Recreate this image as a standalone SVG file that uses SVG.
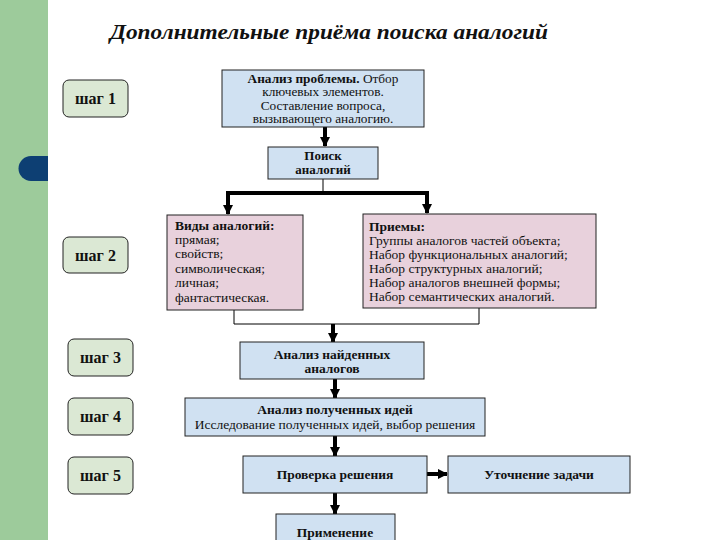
<svg xmlns="http://www.w3.org/2000/svg" width="720" height="540" viewBox="0 0 720 540">
<style>
text{font-family:"Liberation Serif","Times New Roman",serif;fill:#111;}
.t{font-size:13.5px;}
.t1{font-size:13.3px;}
.t2{font-size:13px;}
.b{font-weight:bold;}
.c{text-anchor:middle;}
.blue{fill:#d0e1f2;stroke:#222;stroke-width:1;}
.pink{fill:#e8d1dc;stroke:#222;stroke-width:1;}
.step{fill:#dbe8d4;stroke:#222;stroke-width:1;}
.steptxt{font-size:16px;font-weight:bold;text-anchor:middle;}
.thick{stroke:#000;stroke-width:4;fill:none;}
.thin{stroke:#000;stroke-width:1;fill:none;}
</style>
<defs>
<marker id="ah" markerUnits="userSpaceOnUse" markerWidth="10" markerHeight="10" refX="9" refY="5" orient="auto">
<path d="M0,0 L10,5 L0,10 z" fill="#000"/>
</marker>
</defs>
<rect x="0" y="0" width="720" height="540" fill="#fff"/>
<rect x="0" y="0" width="48" height="540" fill="#9dcb9b"/>
<path d="M48,156 L31,156 A12.5,12.5 0 0 0 31,181 L48,181 z" fill="#0d3f73"/>
<text x="329" y="39" class="c" style="font-size:21px;font-weight:bold;font-style:italic" textLength="438" lengthAdjust="spacingAndGlyphs">Дополнительные приёма поиска аналогий</text>

<g id="step1"><rect x="63" y="80" width="65" height="37" rx="6" class="step"/><text x="95.5" y="104" class="steptxt">шаг 1</text></g>
<g id="step2"><rect x="63" y="237" width="65" height="36" rx="6" class="step"/><text x="95.5" y="261" class="steptxt">шаг 2</text></g>
<g id="step3"><rect x="68" y="339" width="65" height="37" rx="6" class="step"/><text x="100.5" y="363" class="steptxt">шаг 3</text></g>
<g id="step4"><rect x="68" y="398" width="65" height="37" rx="6" class="step"/><text x="100.5" y="422" class="steptxt">шаг 4</text></g>
<g id="step5"><rect x="68" y="457" width="65" height="37" rx="6" class="step"/><text x="100.5" y="481" class="steptxt">шаг 5</text></g>

<g id="connectors">
<line x1="325" y1="127" x2="325" y2="146" class="thick" marker-end="url(#ah)"/>
<line x1="323" y1="179" x2="323" y2="193" class="thin"/>
<line x1="226" y1="193" x2="429" y2="193" class="thick"/>
<line x1="228" y1="193" x2="228" y2="214" class="thick" marker-end="url(#ah)"/>
<line x1="427" y1="193" x2="427" y2="213" class="thick" marker-end="url(#ah)"/>
<line x1="234" y1="310" x2="234" y2="324" class="thin"/>
<line x1="479" y1="308" x2="479" y2="324" class="thin"/>
<line x1="234" y1="324" x2="479" y2="324" class="thin"/>
<line x1="333" y1="324" x2="333" y2="342" class="thick" marker-end="url(#ah)"/>
<line x1="335" y1="379" x2="335" y2="398" class="thick" marker-end="url(#ah)"/>
<line x1="335" y1="436" x2="335" y2="456" class="thick" marker-end="url(#ah)"/>
<line x1="427" y1="474" x2="447" y2="474" class="thick" marker-end="url(#ah)"/>
<line x1="335" y1="493" x2="335" y2="514" class="thick" marker-end="url(#ah)"/>
</g>

<g id="n1"><rect x="222" y="70" width="202" height="57" class="blue"/>
<text class="t1 c" x="323" y="82.5"><tspan class="b">Анализ проблемы.</tspan> Отбор</text>
<text class="t1 c" x="323" y="96">ключевых элементов.</text>
<text class="t1 c" x="323" y="109.5">Составление вопроса,</text>
<text class="t1 c" x="323" y="123">вызывающего аналогию.</text></g>

<g id="n2"><rect x="268" y="147" width="110" height="32" class="blue"/>
<text class="t2 c b" x="323" y="160">Поиск</text>
<text class="t2 c b" x="323" y="174">аналогий</text></g>

<g id="n3"><rect x="167" y="215" width="136" height="95" class="pink"/>
<text class="t b" x="175" y="230">Виды аналогий:</text>
<text class="t" x="175" y="244">прямая;</text>
<text class="t" x="175" y="258">свойств;</text>
<text class="t" x="175" y="273">символическая;</text>
<text class="t" x="175" y="287">личная;</text>
<text class="t" x="175" y="302">фантастическая.</text></g>

<g id="n4"><rect x="363" y="214" width="233" height="94" class="pink"/>
<text class="t b" x="369" y="231">Приемы:</text>
<text class="t" x="369" y="245">Группы аналогов частей объекта;</text>
<text class="t" x="369" y="259">Набор функциональных аналогий;</text>
<text class="t" x="369" y="273">Набор структурных аналогий;</text>
<text class="t" x="369" y="287">Набор аналогов внешней формы;</text>
<text class="t" x="369" y="301">Набор семантических аналогий.</text></g>

<g id="n5"><rect x="240" y="342" width="184" height="37" class="blue"/>
<text class="t c b" x="332" y="358.5">Анализ найденных</text>
<text class="t c b" x="332" y="373">аналогов</text></g>

<g id="n6"><rect x="185" y="398" width="300" height="38" class="blue"/>
<text class="t c b" x="335" y="414">Анализ полученных идей</text>
<text class="t c" x="335" y="429">Исследование полученных идей, выбор решения</text></g>

<g id="n7"><rect x="243" y="456" width="184" height="37" class="blue"/>
<text class="t c b" x="335" y="479">Проверка решения</text></g>

<g id="n8"><rect x="448" y="456" width="182" height="37" class="blue"/>
<text class="t c b" x="539" y="479">Уточнение задачи</text></g>

<g id="n9"><rect x="276" y="514" width="119" height="40" class="blue"/>
<text class="t c b" x="335" y="537">Применение</text></g>
</svg>
